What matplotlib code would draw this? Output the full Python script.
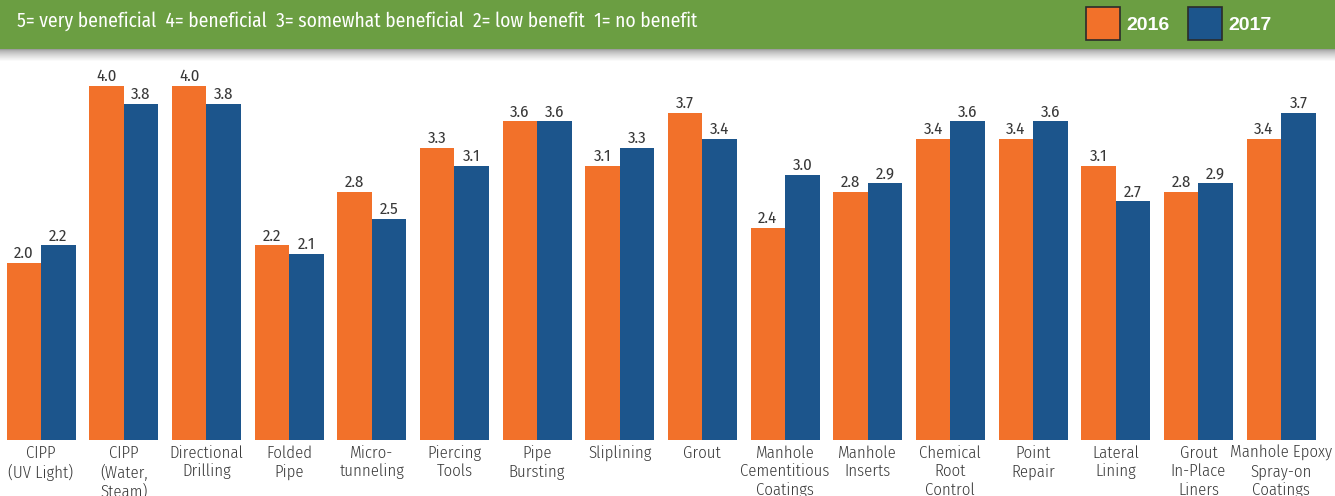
import numpy as np
import matplotlib
matplotlib.use('Agg')
import matplotlib.pyplot as plt
from matplotlib.patches import Rectangle

categories = [
    'CIPP\n(UV Light)', 'CIPP\n(Water,\nSteam)', 'Directional\nDrilling', 'Folded\nPipe',
    'Micro-\ntunneling', 'Piercing\nTools', 'Pipe\nBursting', 'Sliplining', 'Grout',
    'Manhole\nCementitious\nCoatings', 'Manhole\nInserts', 'Chemical\nRoot\nControl',
    'Point\nRepair', 'Lateral\nLining', 'Grout\nIn-Place\nLiners', 'Manhole Epoxy\nSpray-on\nCoatings',
]
vals_2016 = [2.0, 4.0, 4.0, 2.2, 2.8, 3.3, 3.6, 3.1, 3.7, 2.4, 2.8, 3.4, 3.4, 3.1, 2.8, 3.4]
vals_2017 = [2.2, 3.8, 3.8, 2.1, 2.5, 3.1, 3.6, 3.3, 3.4, 3.0, 2.9, 3.6, 3.6, 2.7, 2.9, 3.7]
series_names = ['2016', '2017']
banner_text = '5= very beneficial  4= beneficial  3= somewhat beneficial  2= low benefit  1= no benefit'

ORANGE = '#f2712a'
BLUE = '#1c558c'
GREEN = '#6b9e42'
TXT = '#383838'
FONT = ['Fira Sans Condensed', 'DejaVu Sans']
BOLD = ['Liberation Sans', 'DejaVu Sans']

W, H = 1335, 496
fig = plt.figure(figsize=(W / 100, H / 100), dpi=100)

# green banner with soft shadow below
bax = fig.add_axes([0, 1 - 62 / H, 1, 62 / H])
bax.set_xlim(0, W)
bax.set_ylim(62, 0)
bax.axis('off')
bax.add_patch(Rectangle((0, 0), W, 49, color=GREEN, lw=0))
grad = (0.62 + 0.38 * np.linspace(0, 1, 13) ** 0.7).reshape(-1, 1)
bax.imshow(np.repeat(grad, 2, axis=1), cmap='gray', vmin=0, vmax=1,
           extent=(0, W, 62, 49), aspect='auto')
bax.text(17, 21, banner_text, color='white', fontsize=14, family=FONT,
         va='center', ha='left')
for x0, col, name in [(1086, ORANGE, series_names[0]), (1188, BLUE, series_names[1])]:
    bax.add_patch(Rectangle((x0, 6.5), 34, 33, facecolor=col, edgecolor='#2b2b2b', lw=1.2))
    bax.text(x0 + 40, 25, name, color='white', fontsize=14, family=BOLD,
             fontweight='bold', va='center', ha='left')

# grouped bars, 0 baseline at y=440px, 88.5 px per unit
pitch = 82.67
c0 = 41
ax = fig.add_axes([0, 56 / H, 1, 380 / H])
ax.set_xlim(-c0 / pitch, (W - c0) / pitch)
ax.set_ylim(0, 380 / 88.5)
ax.axis('off')
x = np.arange(len(categories))
bw = 34.5 / pitch
b1 = ax.bar(x - bw / 2, vals_2016, bw, color=ORANGE)
b2 = ax.bar(x + bw / 2, vals_2017, bw, color=BLUE)
for bars in (b1, b2):
    for r in bars:
        ax.annotate(f'{r.get_height():.1f}', (r.get_x() + r.get_width() / 2, r.get_height()),
                    xytext=(0, 1), textcoords='offset points', ha='center', va='bottom',
                    fontsize=12, color=TXT, family=FONT)
for i, lab in enumerate(categories):
    ax.annotate(lab, (i, 0), xytext=(0, -3.5), textcoords='offset points', ha='center', va='top',
                fontsize=12, color=TXT, family=FONT, fontweight=300, linespacing=1.22,
                annotation_clip=False)

fig.savefig('out.png', dpi=100)
